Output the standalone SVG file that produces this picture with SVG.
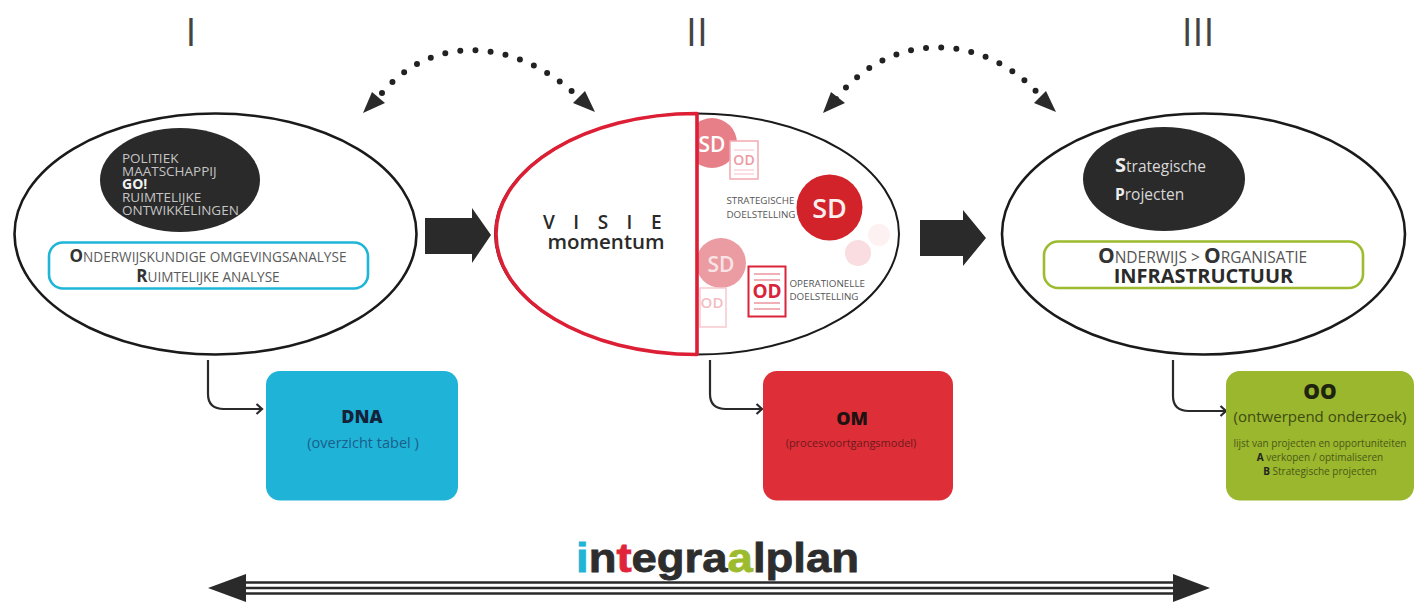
<svg xmlns="http://www.w3.org/2000/svg" width="1414" height="605" viewBox="0 0 1414 605">
<style>
text{font-family:"Open Sans","Liberation Sans",sans-serif}
.oval{fill:#fff;stroke:#1a1a1a;stroke-width:2.6}
.dark{fill:#2a2a2a}
.num{font-size:39px;font-weight:400;fill:#444;text-anchor:middle}
.lt{fill:#c4c4c4;font-size:13.5px}
.gr{fill:#5a5a5a;font-size:13.6px}
.cap{font-weight:700;fill:#333;font-size:17px}
.sm{fill:#555;font-size:9.8px}
.box{stroke:none}
.dots{fill:none;stroke:#222;stroke-width:6;stroke-linecap:round;stroke-dasharray:0 15.2}
.elbow{fill:none;stroke:#2a2a2a;stroke-width:2.2;marker-end:url(#open)}
.m{text-anchor:middle}
.doc{fill:#fff}
</style>
<defs>
<marker id="open" viewBox="0 0 10 12" refX="8.5" refY="6" markerWidth="10" markerHeight="12" markerUnits="userSpaceOnUse" orient="auto">
<path d="M3 1 L8.5 6 L3 11" fill="none" stroke="#2a2a2a" stroke-width="2.2"/>
</marker>
<clipPath id="rightHalf"><path d="M698 110H905V360H698Z"/></clipPath>
</defs>
<rect width="1414" height="605" fill="#fff"/>

<g id="connectors">
<path class="dots" d="M382 93C430 36 510 36 574 93"/>
<polygon class="dark" points="363,113 372,92 385,103"/>
<polygon class="dark" points="595,112 573,103 585,91"/>
<path class="dots" d="M836 99C890 30 985 30 1044 100"/>
<polygon class="dark" points="823,113 831,92 845,103"/>
<polygon class="dark" points="1056,112 1034,103 1046,91"/>
<path class="dots" d="M281 178C308 181 329 197 336 215" stroke-dasharray="0 9.6"/>
<path d="M276 169L268 177L278 186M284 171L277 177L284 183" fill="none" stroke="#222" stroke-width="3.5"/>
<path d="M328 224L343 232L347 217M337 220L341 225" fill="none" stroke="#222" stroke-width="3.8"/>
<path class="elbow" d="M208 360V394Q208 409 224 409H262"/>
<path class="elbow" d="M710 360V394Q710 409 726 409H762"/>
<path class="elbow" d="M1173 360V396Q1173 411 1189 411H1226"/>
<polygon class="dark" points="425,218 472,218 472,208 491,235 472,263 472,254 425,254"/>
<polygon class="dark" points="920,220 963,220 963,210 986,238 963,266 963,256 920,256"/>
<g fill="none" stroke="#2a2a2a" stroke-width="2.3">
<path d="M240 582.5H1180M240 588H1180M240 593.500H1180"/>
</g>
<polygon class="dark" points="208,588 246,574 246,602"/>
<polygon class="dark" points="1210,588 1173,574 1173,602"/>
</g>

<g id="label-i"><text class="num" x="191" y="46">I</text></g>
<g id="label-ii"><text class="num" x="697" y="46">II</text></g>
<g id="label-iii"><text class="num" x="1198" y="46">III</text></g>

<g id="node-analyse">
<ellipse class="oval" cx="215.500" cy="234" rx="201" ry="120.500"/>
<ellipse class="dark" cx="180" cy="180" rx="80" ry="52"/>
<text class="lt" x="122" y="163">POLITIEK</text>
<text class="lt" x="122" y="176">MAATSCHAPPIJ</text>
<text x="122" y="188.500" font-size="14" font-weight="700" fill="#f2f2f2">GO!</text>
<text class="lt" x="122" y="202">RUIMTELIJKE</text>
<text class="lt" x="122" y="215">ONTWIKKELINGEN</text>
<rect x="49" y="242.500" width="319" height="46" rx="14" fill="#fff" stroke="#1fb5d6" stroke-width="2.6"/>
<text class="gr m" x="208" y="262"><tspan class="cap">O</tspan>NDERWIJSKUNDIGE OMGEVINGSANALYSE</text>
<text class="gr m" x="208" y="282"><tspan class="cap">R</tspan>UIMTELIJKE ANALYSE</text>
</g>

<g id="node-visie">
<ellipse cx="697" cy="234" rx="202" ry="120.500" fill="#fff" stroke="#1a1a1a" stroke-width="2"/>
<g clip-path="url(#rightHalf)">
<circle cx="712" cy="143" r="25" fill="#e77f88"/>
<circle cx="721" cy="263" r="25" fill="#eb9ca3"/>
<rect class="doc" x="700" y="288" width="26" height="39" stroke="#f6c9ce" stroke-width="1.500"/>
<text x="712" y="308" class="m" font-size="15" font-weight="600" fill="#f3bcc2">OD</text>
</g>
<text x="712" y="152" class="m" font-size="21" font-weight="600" fill="#fff">SD</text>
<text x="721" y="272" class="m" font-size="21" font-weight="600" fill="#f9e3e5">SD</text>
<rect class="doc" x="730" y="141" width="28" height="38" stroke="#f2a9b2" stroke-width="1.500"/>
<path d="M734 150H754M734 170H754M734 174H754" stroke="#f5c2c8" stroke-width="1"/>
<text x="744" y="165" class="m" font-size="14" font-weight="600" fill="#ec9aa4">OD</text>
<circle cx="829.500" cy="207.500" r="33" fill="#d2232a"/>
<text x="829.500" y="218" class="m" font-size="27" font-weight="600" fill="#fbeeee">SD</text>
<text class="sm" x="726.500" y="204">STRATEGISCHE</text>
<text class="sm" x="726.500" y="218">DOELSTELLING</text>
<circle cx="858" cy="253" r="13" fill="#f9dde0"/>
<circle cx="879" cy="235" r="11" fill="#fdf1f2"/>
<rect class="doc" x="748.500" y="266.500" width="37" height="50" stroke="#d9243a" stroke-width="2"/>
<path d="M754 274H780M754 280H780M754 303H780M754 309H780" stroke="#e4606f" stroke-width="1.200"/>
<text x="767" y="298" class="m" font-size="19" font-weight="700" fill="#d9243a">OD</text>
<text class="sm" x="789.500" y="287">OPERATIONELLE</text>
<text class="sm" x="789.500" y="300">DOELSTELLING</text>
<path d="M697 113.500C585 113.500 496 168 496 234C496 300 585 354.500 697 354.500Z" fill="#fff" stroke="#dd1f35" stroke-width="3.600" stroke-linejoin="round"/>
<text x="543" y="229" font-size="19" font-weight="600" fill="#2a2a2a" letter-spacing="18.500">VISIE</text>
<text x="606" y="249" class="m" font-size="20.500" font-weight="600" fill="#2a2a2a">momentum</text>
</g>

<g id="node-projecten">
<ellipse class="oval" cx="1203.500" cy="234" rx="201.500" ry="120.500"/>
<ellipse class="dark" cx="1164" cy="179" rx="81" ry="52"/>
<text x="1115" y="172" font-size="15.500" fill="#d8d8d8"><tspan font-size="20" font-weight="700" fill="#eee">S</tspan>trategische</text>
<text x="1115" y="200" font-size="15.500" fill="#d8d8d8"><tspan font-weight="700" fill="#eee">P</tspan>rojecten</text>
<rect x="1044" y="241.500" width="319" height="46.500" rx="14" fill="#fff" stroke="#9dbb2f" stroke-width="2.600"/>
<text x="1202.500" y="263" class="m" font-size="15.500" fill="#555"><tspan font-size="21" font-weight="700" fill="#333">O</tspan>NDERWIJS &gt; <tspan font-size="21" font-weight="700" fill="#333">O</tspan>RGANISATIE</text>
<text x="1203.500" y="283" class="m" font-size="20" font-weight="700" fill="#2a2a2a">INFRASTRUCTUUR</text>
</g>

<g id="node-dna">
<rect class="box" x="266" y="371" width="192" height="129.500" rx="14" fill="#1fb3d8"/>
<text x="362" y="423" class="m" font-size="18" font-weight="800" fill="#14233a">DNA</text>
<text x="363" y="448" class="m" font-size="14.500" fill="#1a5f8a">(overzicht tabel )</text>
</g>

<g id="node-om">
<rect class="box" x="763" y="371" width="190" height="129.500" rx="14" fill="#de2f38"/>
<text x="852" y="425" class="m" font-size="18" font-weight="800" fill="#1f1212">OM</text>
<text x="851" y="447" class="m" font-size="11" fill="#6e181c">(procesvoortgangsmodel)</text>
</g>

<g id="node-oo">
<rect class="box" x="1226" y="371" width="188" height="129.500" rx="14" fill="#9ab72d"/>
<text x="1320" y="399" class="m" font-size="21" font-weight="800" fill="#1f2410">OO</text>
<text x="1320" y="422" class="m" font-size="15" fill="#3d4a12">(ontwerpend onderzoek)</text>
<text x="1320" y="447" class="m" font-size="10" fill="#4a5718">lijst van projecten en opportuniteiten</text>
<text x="1320" y="461" class="m" font-size="10" fill="#4a5718"><tspan font-weight="700" fill="#222">A</tspan> verkopen / optimaliseren</text>
<text x="1320" y="475" class="m" font-size="10" fill="#4a5718"><tspan font-weight="700" fill="#222">B</tspan> Strategische projecten</text>
</g>

<g id="title">
<text x="576" y="572" font-size="41" font-weight="700" textLength="283" lengthAdjust="spacingAndGlyphs" fill="#2d2d2d" stroke="#2d2d2d" stroke-width=".8" style="font-family:'Liberation Sans',Arial,sans-serif"><tspan fill="#1fb5d6" stroke="#1fb5d6">i</tspan>n<tspan fill="#e0243c" stroke="#e0243c">t</tspan>egra<tspan fill="#9dbb2f" stroke="#9dbb2f">a</tspan>lplan</text>
</g>
</svg>
